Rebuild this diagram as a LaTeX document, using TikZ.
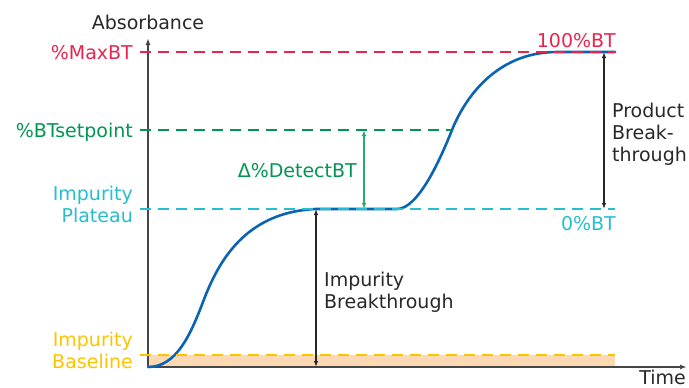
\documentclass[tikz,border=0pt]{standalone}
\usepackage{fontspec}
\setmainfont{DejaVu Sans}
\usetikzlibrary{arrows.meta}

\definecolor{maxred}{RGB}{232,36,78}
\definecolor{setgreen}{RGB}{0,150,82}
\definecolor{arrgreen}{RGB}{40,172,110}
\definecolor{platcyan}{RGB}{38,190,206}
\definecolor{baseyellow}{RGB}{250,196,0}
\definecolor{peach}{RGB}{252,217,178}
\definecolor{curveblue}{RGB}{10,100,180}
\definecolor{ink}{RGB}{40,40,40}
\definecolor{axisgray}{RGB}{70,70,70}

\begin{document}
\begin{tikzpicture}[x=1pt,y=-1pt,
  lbl/.style={inner sep=0pt, font=\fontsize{19}{22}\selectfont},
  level/.style={line width=2.6pt, dash pattern=on 11pt off 7pt},
  axis/.style={draw=axisgray, line width=1.4pt, -{Latex[length=7pt,width=5pt]}},
  dim/.style={line width=1.1pt, {Latex[length=6pt,width=4.5pt]}-{Latex[length=6pt,width=4.5pt]}},
  curve/.style={draw=curveblue, line width=2.6pt, line cap=round, line join=round}
]
\useasboundingbox (0,0) rectangle (689,388);

% shaded band under the baseline
\fill[peach] (148,355) rectangle (615,367);

% axes
\coordinate (O) at (148,367);
\coordinate (ytop) at (148,38);
\coordinate (xend) at (687,367);
\draw[axis] (O) -- (ytop);
\draw[axis] (O) -- (xend);

% breakthrough curve
\draw[curve] (148,367) .. controls (176,367) and (190,336) .. (203,302)
  .. controls (218,262) and (245,212) .. (316,209)
  -- (397,209)
  .. controls (418,209) and (440,160) .. (452,130)
  .. controls (464,100) and (495,52) .. (557,52)
  -- (615,52);

% reference levels
\coordinate (maxL) at (140,52);   \coordinate (maxR) at (615,52);
\coordinate (setL) at (140,130);  \coordinate (setR) at (452,130);
\coordinate (platL) at (140,209); \coordinate (platR) at (615,209);
\coordinate (baseL) at (140,355); \coordinate (baseR) at (615,355);
\draw[level, maxred] (maxL) -- (maxR);
\draw[level, setgreen] (setL) -- (setR);
\draw[level, platcyan] (platL) -- (platR);
\draw[level, baseyellow] (baseL) -- (baseR);

% dimension arrows
\coordinate (pbTop) at (604,52);  \coordinate (pbBot) at (604,209);
\coordinate (dTop) at (364,130);  \coordinate (dBot) at (364,209);
\coordinate (ibTop) at (316,209); \coordinate (ibBot) at (316,367);
\draw[dim, ink] (pbTop) -- (pbBot);
\draw[dim, arrgreen] (dTop) -- (dBot);
\draw[dim, ink] (ibTop) -- (ibBot);

% axis titles
\node[lbl, ink, anchor=base] (absorb) at (148,29) {Absorbance};
\node[lbl, ink, anchor=base east] (time) at (686,384) {Time};

% level labels (base anchor sits on the last line)
\node[lbl, maxred, anchor=base east] (maxlbl) at (133,59) {\%MaxBT};
\node[lbl, setgreen, anchor=base east] (setlbl) at (133,137) {\%BTsetpoint};
\node[lbl, platcyan, anchor=base east, align=right] (platlbl) at (133,222) {Impurity\\Plateau};
\node[lbl, baseyellow, anchor=base east, align=right] (baselbl) at (133,368) {Impurity\\Baseline};
\node[lbl, maxred, anchor=base east] (hundred) at (616,47) {100\%BT};
\node[lbl, platcyan, anchor=base east] (zero) at (616,230) {0\%BT};

% dimension labels
\node[lbl, ink, anchor=base west, align=left] (pblbl) at (612,161) {Product\\Break-\\through};
\node[lbl, setgreen, anchor=base east] (dlbl) at (357,177) {Δ\%DetectBT};
\node[lbl, ink, anchor=base west, align=left] (iblbl) at (324,308) {Impurity\\Breakthrough};
\end{tikzpicture}
\end{document}
